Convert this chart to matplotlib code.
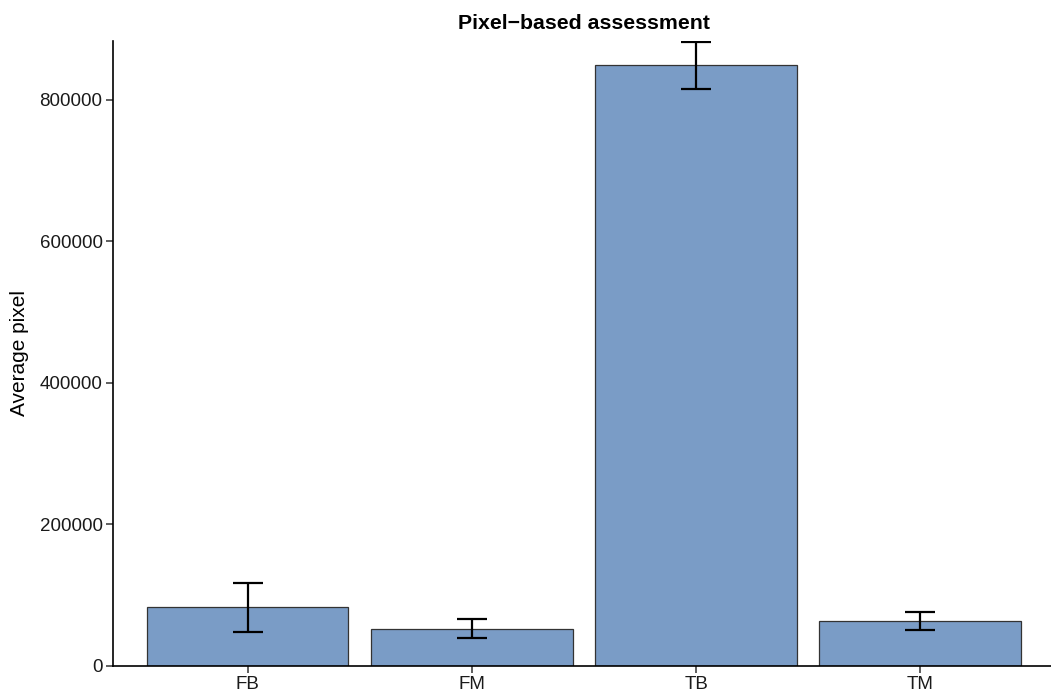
import matplotlib
matplotlib.use("Agg")
import matplotlib.pyplot as plt

categories = ["FB", "FM", "TB", "TM"]
means = [82500, 51900, 848700, 63200]
err_low = [48000, 38700, 814800, 50400]
err_high = [117300, 65600, 881200, 76300]

plt.rcParams['font.family'] = ['Liberation Sans', 'DejaVu Sans']

fig = plt.figure(figsize=(10.51, 6.93), dpi=100)
ax = fig.add_axes([0.1075, 0.0394, 0.8962, 0.9014])

x = list(range(len(categories)))
ax.bar(x, means, width=0.9, color="#7A9CC6", edgecolor="#333333", linewidth=0.9, zorder=2)
yerr = [[m - lo for m, lo in zip(means, err_low)], [hi - m for m, hi in zip(means, err_high)]]
ax.errorbar(x, means, yerr=yerr, fmt="none", ecolor="black", elinewidth=1.6,
            capsize=10.5, capthick=1.6, zorder=3)

ax.set_xlim(-0.6, len(categories) - 0.4)
ax.set_ylim(0, 883000)
ax.set_xticks(x)
ax.set_xticklabels(categories)
ax.set_yticks([0, 200000, 400000, 600000, 800000])
ax.set_yticklabels(["0", "200000", "400000", "600000", "800000"])

for s in ["top", "right"]:
    ax.spines[s].set_visible(False)
for s in ["left", "bottom"]:
    ax.spines[s].set_linewidth(1.2)
    ax.spines[s].set_color("black")
ax.tick_params(axis="both", length=5, width=1.1, color="#333333", labelsize=13.5,
               labelcolor="#1a1a1a", pad=2.5)
ax.set_ylabel("Average pixel", fontsize=15)
ax.yaxis.set_label_coords(-0.089, 0.5)
ax.set_title("Pixel\u2212based assessment", fontsize=15.3, fontweight="bold", pad=9)

fig.savefig("out.png", dpi=100)
